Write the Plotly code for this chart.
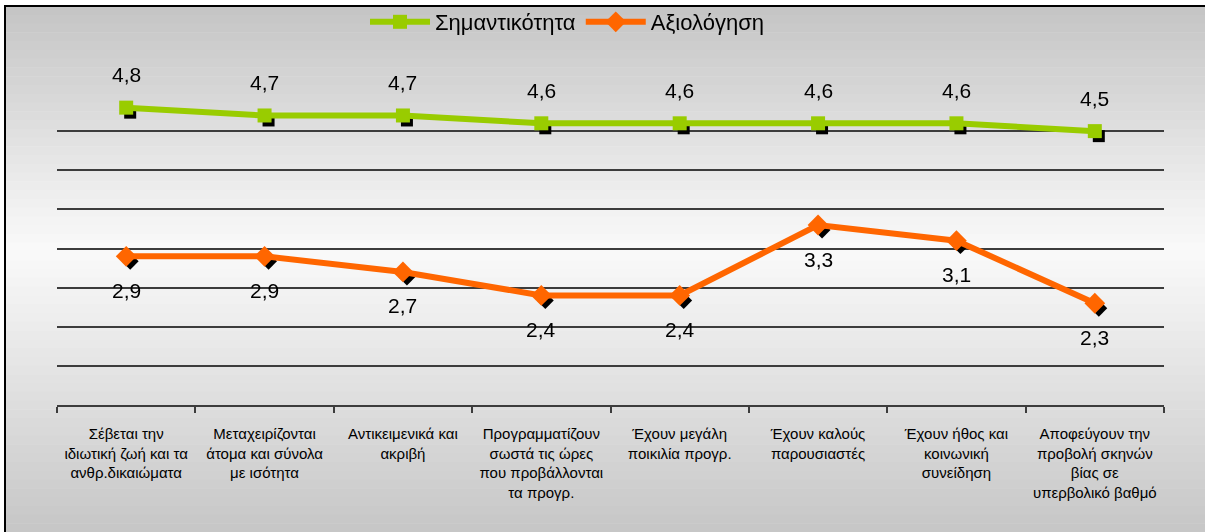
import plotly.graph_objects as go

categories = [
    "Σέβεται την<br>ιδιωτική ζωή και τα<br>ανθρ.δικαιώματα",
    "Μεταχειρίζονται<br>άτομα και σύνολα<br>με ισότητα",
    "Αντικειμενικά και<br>ακριβή",
    "Προγραμματίζουν<br>σωστά τις ώρες<br>που προβάλλονται<br>τα προγρ.",
    "Έχουν μεγάλη<br>ποικιλία προγρ.",
    "Έχουν καλούς<br>παρουσιαστές",
    "Έχουν ήθος και<br>κοινωνική<br>συνείδηση",
    "Αποφεύγουν την<br>προβολή σκηνών<br>βίας σε<br>υπερβολικό βαθμό",
]
importance = [4.8, 4.7, 4.7, 4.6, 4.6, 4.6, 4.6, 4.5]
evaluation = [2.9, 2.9, 2.7, 2.4, 2.4, 3.3, 3.1, 2.3]
series_names = ["Σημαντικότητα", "Αξιολόγηση"]

W, H = 1205, 532
GREEN = "#99CC00"
ORANGE = "#FF6600"
GRID = "#3c3c3c"
FONT = "Liberation Sans, Arial, sans-serif"

def px_x(p):
    return p / W

def px_y(p):
    return (H - p) / H

# plot area in pixels
L, R, T, B = 57, 1164, 92, 405
SHX, SHY = 4, 5  # shadow offset

fig = go.Figure()

# subplot 1 (x/y): grid + category axis only
fig.add_trace(go.Scatter(x=categories, y=importance, mode="markers", opacity=0,
                         showlegend=False, hoverinfo="skip"))

# subplot 2 (x2/y2): black marker shadows, offset domain
fig.add_trace(go.Scatter(x=categories, y=importance, mode="markers",
                         marker=dict(symbol="square", size=12, color="black"),
                         xaxis="x2", yaxis="y2", showlegend=False, hoverinfo="skip"))
fig.add_trace(go.Scatter(x=categories, y=evaluation, mode="markers",
                         marker=dict(symbol="diamond", size=13, color="black"),
                         xaxis="x2", yaxis="y2", showlegend=False, hoverinfo="skip"))

# subplot 3 (x3/y3): main series
fig.add_trace(go.Scatter(x=categories, y=importance, mode="lines+markers", name=series_names[0],
                         line=dict(color=GREEN, width=6),
                         marker=dict(symbol="square", size=14, color=GREEN),
                         xaxis="x3", yaxis="y3"))
fig.add_trace(go.Scatter(x=categories, y=evaluation, mode="lines+markers", name=series_names[1],
                         line=dict(color=ORANGE, width=6),
                         marker=dict(symbol="diamond", size=16, color=ORANGE),
                         xaxis="x3", yaxis="y3"))

annotations = []
for c, v in zip(categories, importance):
    annotations.append(dict(x=c, y=v, xref="x3", yref="y3", text=f"{v:.1f}".replace(".", ","),
                            showarrow=False, yshift=33,
                            font=dict(size=21, color="black", family=FONT)))
for c, v in zip(categories, evaluation):
    annotations.append(dict(x=c, y=v, xref="x3", yref="y3", text=f"{v:.1f}".replace(".", ","),
                            showarrow=False, yshift=-34,
                            font=dict(size=21, color="black", family=FONT)))

# background gradient strips (grey -> white -> grey)
shapes = []
n = 60
top, bot, mid = 6, 532, 250
for i in range(n):
    y0 = top + (bot - top) * i / n
    y1 = top + (bot - top) * (i + 1) / n
    yc = (y0 + y1) / 2
    if yc <= mid:
        g = 196 + (250 - 196) * (yc - top) / (mid - top)
    else:
        g = 250 - (250 - 198) * (yc - mid) / (bot - mid)
    g = int(round(g))
    shapes.append(dict(type="rect", xref="paper", yref="paper",
                       x0=px_x(5), x1=px_x(W + 10), y0=px_y(y1 + 0.5), y1=px_y(y0),
                       fillcolor=f"rgb({g},{g},{g})", line=dict(width=0), layer="below"))
shapes.append(dict(type="rect", xref="paper", yref="paper",
                   x0=px_x(5), x1=px_x(W + 20), y0=px_y(H + 20), y1=px_y(6),
                   fillcolor="rgba(0,0,0,0)", line=dict(color="black", width=2), layer="below"))

hidden = dict(visible=False, fixedrange=True, showgrid=False, zeroline=False)

fig.update_layout(
    width=W, height=H,
    margin=dict(l=0, r=0, t=0, b=0),
    paper_bgcolor="white",
    plot_bgcolor="rgba(0,0,0,0)",
    font=dict(family=FONT, color="black"),
    showlegend=True,
    legend=dict(orientation="h", x=px_x(567), xanchor="center", y=px_y(22), yanchor="middle",
                font=dict(size=22, family=FONT), bgcolor="rgba(0,0,0,0)",
                itemwidth=60, tracegroupgap=0),
    xaxis=dict(type="category", domain=[px_x(L), px_x(R)], range=[-0.5, 7.5], anchor="y",
               showgrid=False, showline=True, linecolor=GRID, linewidth=2,
               ticks="outside", tickson="boundaries", ticklen=6, tickcolor=GRID, tickwidth=2,
               tickfont=dict(size=15, family=FONT, color="black"), ticklabelstandoff=14,
               zeroline=False, fixedrange=True),
    yaxis=dict(domain=[px_y(B), px_y(T)], range=[1, 5], dtick=0.5, tick0=1, anchor="x",
               showgrid=True, gridcolor=GRID, gridwidth=2, showticklabels=False,
               showline=False, zeroline=False, ticks="", fixedrange=True),
    xaxis2=dict(type="category", domain=[px_x(L + SHX), px_x(R + SHX)], range=[-0.5, 7.5],
                anchor="y2", **hidden),
    yaxis2=dict(domain=[px_y(B + SHY), px_y(T + SHY)], range=[1, 5], anchor="x2", **hidden),
    xaxis3=dict(type="category", domain=[px_x(L), px_x(R)], range=[-0.5, 7.5],
                anchor="y3", **hidden),
    yaxis3=dict(domain=[px_y(B), px_y(T)], range=[1, 5], anchor="x3", **hidden),
    annotations=annotations,
    shapes=shapes,
)

fig.write_html("out.html", config={"displayModeBar": False},
               post_script="document.body.style.margin='0';document.body.style.padding='0';")
